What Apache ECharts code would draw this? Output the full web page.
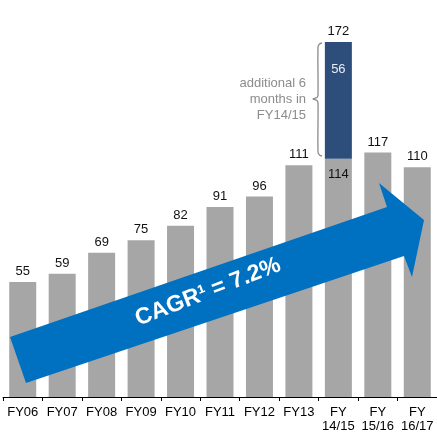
<!DOCTYPE html>
<html lang="en">

<head>
    <meta charset="UTF-8">
    <title>Revenue FY06 - FY16/17</title>
    <script src="https://cdn.jsdelivr.net/npm/echarts@6/dist/echarts.min.js"></script>
    <style>
        body { margin: 0; background: #fff; }
    </style>
</head>

<body>
    <div id="main" style="width: 437px;height:434px;"></div>
    <script>
        let categories = ['FY06', 'FY07', 'FY08', 'FY09', 'FY10', 'FY11', 'FY12', 'FY13', 'FY\n14/15', 'FY\n15/16', 'FY\n16/17']
        let baseValues = [55, 59, 69, 75, 82, 91, 96, 111, 114, 117, 110]
        let extraValues = [null, null, null, null, null, null, null, null, 56, null, null]
        let totalLabels = [null, null, null, null, null, null, null, null, 172, null, null]
        let cagrText = 'CAGR¹ = 7.2%'
        let noteText = 'additional 6\nmonths in\nFY14/15'
    </script>
    <script>
        var chartDom = document.getElementById('main');
        var myChart = echarts.init(chartDom);
        var option;

        var font = 'Liberation Sans, Arial, sans-serif'
        // invisible bar sitting on top of the stack, carries the total label
        var stackTops = extraValues.map((v, i) => v == null ? null : v + baseValues[i])

        // curly brace next to the dark segment
        var bracePts = [
            [322, 43], [319.5, 44], [318, 47], [318, 95], [317, 97.5], [313, 99],
            [317, 100.5], [318, 103], [318, 152], [319.5, 155], [322, 156]
        ]

        option = {
            animation: false,
            grid: {
                left: 3,
                width: 440,
                top: 21,
                bottom: 37
            },
            xAxis: {
                type: 'category',
                data: categories,
                axisLine: { lineStyle: { color: '#000', width: 1 } },
                axisTick: { show: true, length: 4, lineStyle: { color: '#000' } },
                axisLabel: {
                    color: '#000',
                    fontFamily: font,
                    fontSize: 13,
                    lineHeight: 14,
                    margin: 8,
                    interval: 0
                }
            },
            yAxis: {
                type: 'value',
                min: 0,
                max: 180,
                show: false,
                splitLine: { show: false }
            },
            series: [
                {
                    name: 'base',
                    type: 'bar',
                    stack: 'rev',
                    barWidth: 27,
                    itemStyle: { color: '#a6a6a6' },
                    label: {
                        show: true,
                        position: 'top',
                        distance: 4,
                        color: '#111',
                        fontFamily: font,
                        fontSize: 13
                    },
                    data: baseValues.map((v, i) => extraValues[i] == null ? v : {
                        value: v,
                        label: { position: 'insideTop', distance: 9 }
                    })
                },
                {
                    name: 'extra',
                    type: 'bar',
                    stack: 'rev',
                    barWidth: 27,
                    itemStyle: { color: '#2d4d7a' },
                    label: {
                        show: true,
                        position: 'insideTop',
                        distance: 21,
                        color: '#e8edf4',
                        fontFamily: font,
                        fontSize: 13
                    },
                    data: extraValues
                },
                {
                    name: 'total',
                    type: 'bar',
                    barWidth: 27,
                    barGap: '-100%',
                    itemStyle: { color: 'rgba(0,0,0,0)' },
                    label: {
                        show: true,
                        position: 'top',
                        distance: 4,
                        color: '#111',
                        fontFamily: font,
                        fontSize: 13,
                        formatter: p => totalLabels[p.dataIndex]
                    },
                    data: stackTops,
                    z: 1
                }
            ],
            graphic: [
                {
                    type: 'polygon',
                    z: 100,
                    shape: {
                        points: [[10, 337], [387, 207], [379, 183], [424, 220], [412, 277], [404, 256], [26, 383]]
                    },
                    style: { fill: '#0070c0' }
                },
                {
                    type: 'text',
                    z: 101,
                    x: 208,
                    y: 292,
                    rotation: 0.37,
                    style: {
                        text: cagrText,
                        fill: '#fff',
                        fontFamily: font,
                        fontSize: 23,
                        fontWeight: 'bold',
                        align: 'center',
                        verticalAlign: 'middle'
                    }
                },
                {
                    type: 'text',
                    z: 101,
                    x: 306,
                    y: 99,
                    style: {
                        text: noteText,
                        fill: '#8c8c8c',
                        fontFamily: font,
                        fontSize: 13,
                        lineHeight: 16,
                        align: 'right',
                        verticalAlign: 'middle'
                    }
                },
                {
                    type: 'polyline',
                    z: 101,
                    shape: { points: bracePts, smooth: 0.3 },
                    style: { fill: null, stroke: '#8c8c8c', lineWidth: 1.3 }
                }
            ]
        };

        option && myChart.setOption(option);
    </script>
</body>

</html>
